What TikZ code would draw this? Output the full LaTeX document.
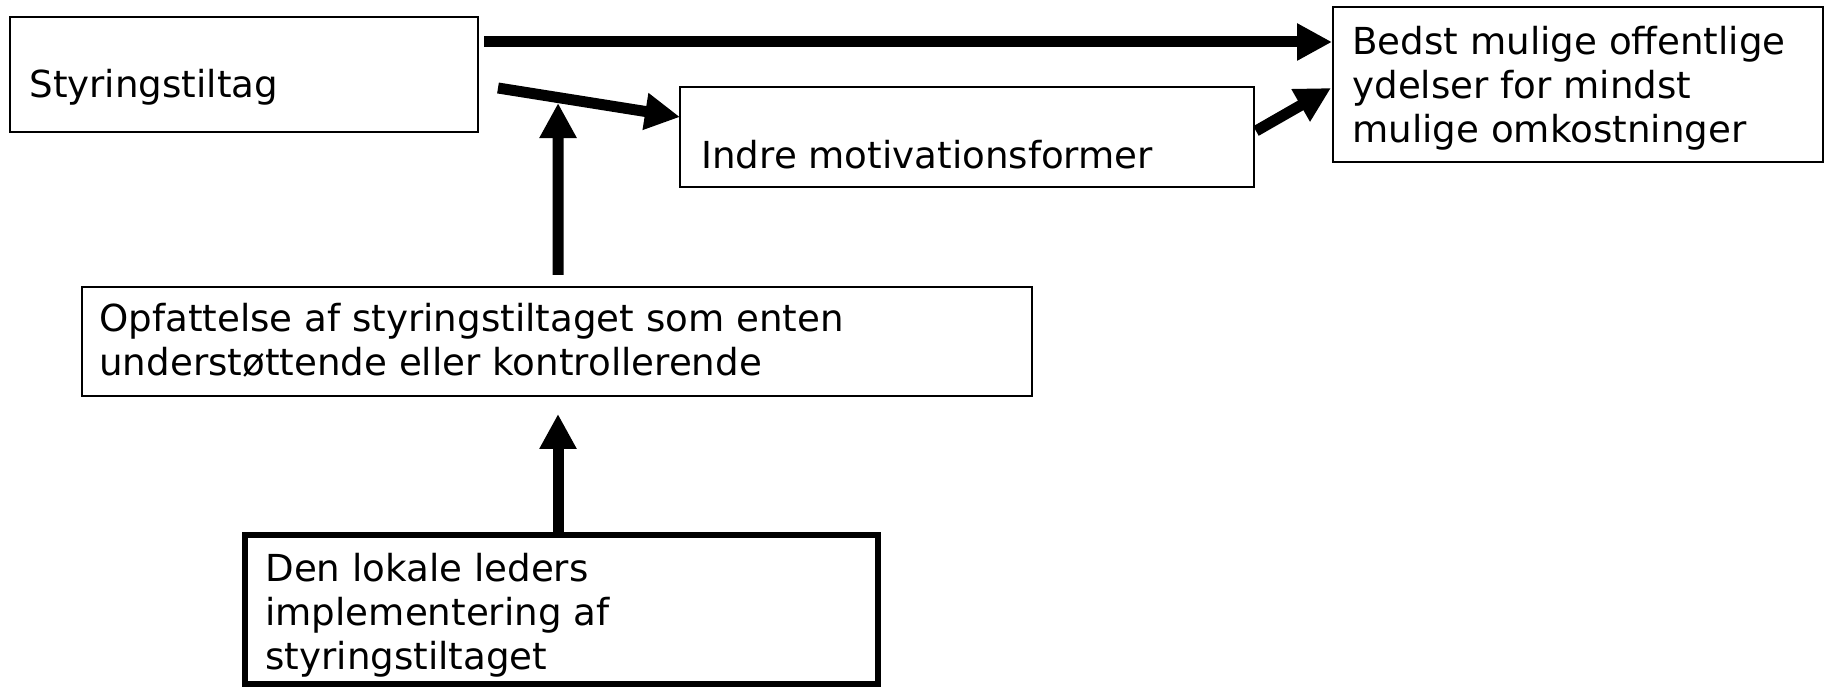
\documentclass[tikz,border=0pt]{standalone}
\usepackage{fontspec}
\setmainfont{DejaVu Sans}
\usetikzlibrary{arrows.meta,calc}
\newcommand\mylines[1]{\parbox[t]{600pt}{\raggedright #1}}
\begin{document}
\begin{tikzpicture}[x=0.5pt,y=-0.5pt,
  box/.style={draw,line width=1pt,inner sep=0pt,outer sep=0pt,anchor=north west},
  txt/.style={inner sep=0pt,anchor=base west,font=\fontsize{18.6pt}{22pt}\selectfont},
  arr/.style={line width=5.5pt,-{Triangle[length=17.5pt,width=17.5pt]}}]
\useasboundingbox (0,0) rectangle (1825,688);
% boxes
\node[box,minimum width=234pt,minimum height=57.5pt] (sty) at (10,17) {};
\node[box,minimum width=245pt,minimum height=77.5pt] (bedst) at (1333,7) {};
\node[box,minimum width=287pt,minimum height=50pt] (indre) at (680,87) {};
\node[box,minimum width=475pt,minimum height=54.5pt] (opf) at (82,287) {};
\node[box,line width=3.25pt,minimum width=316.5pt,minimum height=74.5pt] (den) at (245,535) {};
% texts
\node[txt] (tsty) at ($(sty.north west)+(19,81)$) {Styringstiltag};
\node[txt] (tbed) at ($(bedst.north west)+(19,48)$) {\mylines{Bedst mulige offentlige\\ydelser for mindst\\mulige omkostninger}};
\node[txt] (tind) at ($(indre.north west)+(21,82)$) {Indre motivationsformer};
\node[txt] (topf) at ($(opf.north west)+(17,45)$) {\mylines{Opfattelse af styringstiltaget som enten\\understøttende eller kontrollerende}};
\node[txt] (tden) at ($(den.north west)+(20,47)$) {\mylines{Den lokale leders\\implementering af\\styringstiltaget}};
% connectors
\coordinate (a1s) at ($(sty.north east)+(6,25)$);
\coordinate (a1e) at ($(bedst.north west)+(-1,35)$);
\draw[arr] (a1s) -- (a1e);
\coordinate (a2s) at ($(sty.north east)+(20,71)$);
\coordinate (a2e) at ($(indre.north west)+(0,30)$);
\draw[arr] (a2s) -- (a2e);
\path (a2s) -- coordinate[pos=0.33] (j) (a2e);
\coordinate (a3s) at ($(opf.north west)+(476,-12)$);
\draw[arr] (a3s) -- ($(j)+(0,5.5)$);
\coordinate (a4s) at ($(den.north west)+(313,-3)$);
\coordinate (a4e) at ($(opf.south west)+(476,18)$);
\draw[arr] (a4s) -- (a4e);
\coordinate (a5s) at ($(indre.north east)+(2,44)$);
\coordinate (a5e) at ($(bedst.north west)+(-2,81)$);
\draw[arr] (a5s) -- (a5e);
\end{tikzpicture}
\end{document}
